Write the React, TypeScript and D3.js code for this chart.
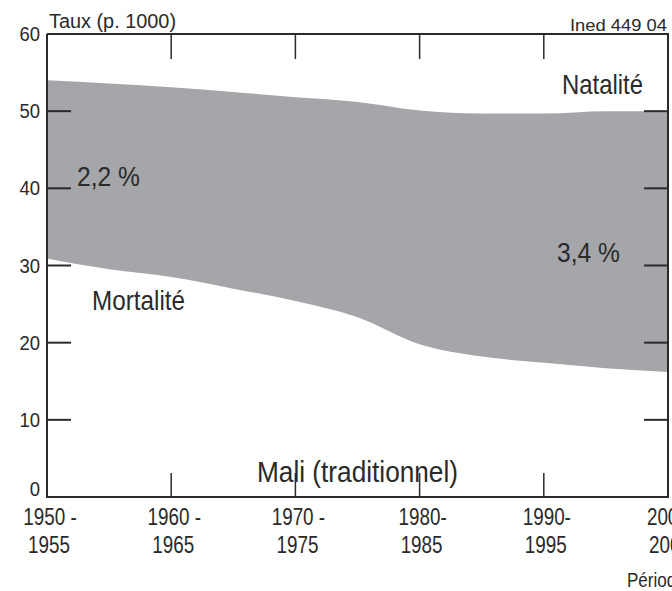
import React from 'react';
import { scaleLinear, area, line, curveMonotoneX } from 'd3';

// periods (start year of each 5-year period)
const years = [1950, 1955, 1960, 1965, 1970, 1975, 1980, 1985, 1990, 1995, 2000];
// taux pour 1000
const natalite = [54.0, 53.6, 53.1, 52.5, 51.8, 51.2, 50.1, 49.7, 49.7, 50.0, 50.0];
const mortalite = [30.9, 29.5, 28.5, 27.0, 25.4, 23.3, 19.8, 18.2, 17.4, 16.7, 16.2];

const yTicks = [0, 10, 20, 30, 40, 50, 60];
const xTicks = [1950, 1960, 1970, 1980, 1990, 2000];
const xTickLabels = [
	['1950 -', '1955'],
	['1960 -', '1965'],
	['1970 -', '1975'],
	['1980-', '1985'],
	['1990-', '1995'],
	['2000-', '2005'],
];

const W = 672;
const H = 591;
const FONT = '"Liberation Sans Narrow", "Liberation Sans", Arial, sans-serif';
const INK = '#2a2a2a';

// condensed text: the original uses a narrow grotesque
const Narrow = ({ x, y, sx = 0.85, anchor = 'start', size, children }: any) => (
	<text
		transform={`translate(${x},${y}) scale(${sx},1)`}
		textAnchor={anchor}
		fontSize={size}
		fill={INK}>
		{children}
	</text>
);

export default function App() {
	const x = scaleLinear().domain([1950, 2000]).range([47, 668]);
	const y = scaleLinear().domain([0, 60]).range([497, 34]);

	const rows = years.map((yr, i) => ({ yr, n: natalite[i], m: mortalite[i] }));

	const band = area<any>()
		.x((d) => x(d.yr))
		.y0((d) => y(d.m))
		.y1((d) => y(d.n))
		.curve(curveMonotoneX)(rows);

	const frame = line()([
		[x(1950), y(60)],
		[x(2000), y(60)],
		[x(2000), y(0)],
		[x(1950), y(0)],
		[x(1950), y(60)],
	]);

	return (
		<svg
			width={W}
			height={H}
			style={{ position: 'absolute', left: 0, top: 0, background: '#fff' }}
			fontFamily={FONT}>
			<path d={band} fill="#a5a6aa" />

			<path d={frame} fill="none" stroke={INK} strokeWidth={2} />

			{/* y ticks, both sides */}
			{yTicks
				.filter((t) => t > 0 && t < 60)
				.map((t) => (
					<g key={'yt' + t}>
						<line x1={x(1950)} x2={x(1950) + 24} y1={y(t)} y2={y(t)} stroke={INK} strokeWidth={2} />
						<line x1={x(2000) - 24} x2={x(2000)} y1={y(t)} y2={y(t)} stroke={INK} strokeWidth={2} />
					</g>
				))}
			{yTicks.map((t) => (
				<Narrow key={'yl' + t} x={40} y={t === 0 ? y(t) - 1 : y(t) + 7} anchor="end" size={21} sx={0.88}>
					{t}
				</Narrow>
			))}

			{/* x ticks, top and bottom */}
			{xTicks
				.filter((t) => t > 1950 && t < 2000)
				.map((t) => (
					<g key={'xt' + t}>
						<line x1={x(t)} x2={x(t)} y1={y(60)} y2={y(60) + 25} stroke={INK} strokeWidth={1.5} />
						<line x1={x(t)} x2={x(t)} y1={y(0)} y2={y(0) - 24} stroke={INK} strokeWidth={1.5} />
					</g>
				))}
			{xTicks.map((t, i) => (
				<g key={'xl' + t}>
					<Narrow x={x(t) + 3} y={525} anchor="middle" size={23} sx={0.82}>
						{xTickLabels[i][0]}
					</Narrow>
					<Narrow x={x(t) + 2} y={553} anchor="middle" size={23} sx={0.82}>
						{xTickLabels[i][1]}
					</Narrow>
				</g>
			))}

			<text x={49} y={28} fontSize={20} fill={INK} textLength={127} lengthAdjust="spacingAndGlyphs">
				Taux (p. 1000)
			</text>
			<text x={570} y={31} fontSize={17} fill={INK} textLength={97} lengthAdjust="spacingAndGlyphs">
				Ined 449 04
			</text>
			<Narrow x={627} y={587} size={20} sx={0.85}>
				Période
			</Narrow>

			<text x={562} y={94} fontSize={28} fill={INK} textLength={81} lengthAdjust="spacingAndGlyphs">
				Natalité
			</text>
			<text x={92} y={310} fontSize={28} fill={INK} textLength={93} lengthAdjust="spacingAndGlyphs">
				Mortalité
			</text>
			<text x={77} y={186} fontSize={28} fill={INK} textLength={63} lengthAdjust="spacingAndGlyphs">
				2,2 %
			</text>
			<text x={557} y={262} fontSize={28} fill={INK} textLength={63} lengthAdjust="spacingAndGlyphs">
				3,4 %
			</text>
			<text x={257} y={482} fontSize={30} fill={INK} textLength={201} lengthAdjust="spacingAndGlyphs">
				Mali (traditionnel)
			</text>
		</svg>
	);
}
